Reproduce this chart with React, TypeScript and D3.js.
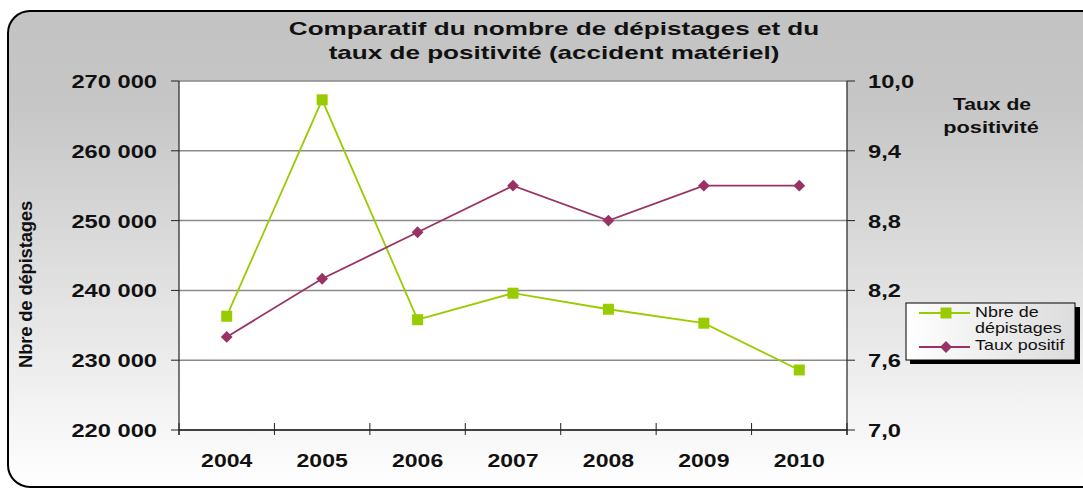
import React from "react";
import * as d3 from "d3";

const years = ["2004", "2005", "2006", "2007", "2008", "2009", "2010"];
const depistages = [236300, 267300, 235800, 239600, 237300, 235300, 228600];
const tauxPositif = [7.8, 8.3, 8.7, 9.1, 8.8, 9.1, 9.1];
const leftTicks = [220000, 230000, 240000, 250000, 260000, 270000];
const rightTicks = [7.0, 7.6, 8.2, 8.8, 9.4, 10.0];

const W = 1083;
const H = 489;
const M = { left: 179, right: 847, top: 81, bottom: 430 };
const FONT = "'Liberation Sans', Arial, sans-serif";

type TProps = {
  x: number;
  y: number;
  sx?: number;
  size: number;
  bold?: boolean;
  anchor?: "start" | "middle" | "end";
  children: React.ReactNode;
};

function T({ x, y, sx = 1.28, size, bold = true, anchor = "start", children }: TProps) {
  return (
    <text
      transform={`translate(${x},${y}) scale(${sx},1)`}
      textAnchor={anchor}
      fontSize={size}
      fontWeight={bold ? "bold" : "normal"}
      fill="#111"
    >
      {children}
    </text>
  );
}

export default function App() {
  const x = d3.scaleBand<string>().domain(years).range([M.left, M.right]);
  const yL = d3.scaleLinear().domain([220000, 270000]).range([M.bottom, M.top]);
  const yR = d3.scaleLinear().domain([7, 10]).range([M.bottom, M.top]);
  const cx = (d: string) => (x(d) ?? 0) + x.bandwidth() / 2;
  const fmtL = (v: number) => d3.format(",")(v).replace(/,/g, " ");
  const fmtR = (v: number) => d3.format(".1f")(v).replace(".", ",");

  const lineL = d3
    .line<number>()
    .x((_, i) => cx(years[i]))
    .y((d) => yL(d));
  const lineR = d3
    .line<number>()
    .x((_, i) => cx(years[i]))
    .y((d) => yR(d));
  const diamond = d3.symbol().type(d3.symbolSquare).size(70)();

  const green = "#99cc00";
  const purple = "#993366";
  const bounds = x.domain().map((d) => x(d) ?? 0).concat([M.right]);

  return (
    <svg
      width={W}
      height={H}
      style={{ position: "absolute", left: 0, top: 0, fontFamily: FONT }}
    >
      <defs>
        <linearGradient id="bg" x1="0" y1="0" x2="0" y2="1">
          <stop offset="0" stopColor="#c3c3c3" />
          <stop offset="0.2" stopColor="#c6c6c6" />
          <stop offset="1" stopColor="#ffffff" />
        </linearGradient>
        <linearGradient id="lg" x1="0" y1="0" x2="1" y2="0">
          <stop offset="0" stopColor="#ffffff" />
          <stop offset="1" stopColor="#dcdcdc" />
        </linearGradient>
      </defs>
      <rect width={W} height={H} fill="#ffffff" />
      <rect
        x={8}
        y={11}
        width={1095}
        height={476}
        rx={22}
        ry={22}
        fill="url(#bg)"
        stroke="#000"
        strokeWidth={2}
      />
      <T x={554} y={35} sx={1.41} size={18.5} anchor="middle">
        Comparatif du nombre de dépistages et du
      </T>
      <T x={554} y={59} sx={1.41} size={18.5} anchor="middle">
        taux de positivité (accident matériel)
      </T>

      <rect
        x={M.left}
        y={M.top}
        width={M.right - M.left}
        height={M.bottom - M.top}
        fill="#ffffff"
      />
      {leftTicks.map((t) => (
        <line
          key={"g" + t}
          x1={M.left}
          x2={M.right}
          y1={yL(t)}
          y2={yL(t)}
          stroke="#8a8a8a"
          strokeWidth={1.5}
        />
      ))}
      {/* axes */}
      <line x1={M.left} x2={M.left} y1={M.top} y2={M.bottom + 5} stroke="#222" strokeWidth={1.2} />
      <line x1={M.right} x2={M.right} y1={M.top} y2={M.bottom + 5} stroke="#222" strokeWidth={1.2} />
      <line x1={M.left} x2={M.right} y1={M.bottom} y2={M.bottom} stroke="#222" strokeWidth={1.5} />
      {bounds.map((b, i) => (
        <line key={"xt" + i} x1={b} x2={b} y1={M.bottom - 7} y2={M.bottom + 5} stroke="#222" strokeWidth={1} />
      ))}
      {leftTicks.map((t) => (
        <g key={"lt" + t}>
          <line x1={M.left - 8} x2={M.left} y1={yL(t)} y2={yL(t)} stroke="#222" strokeWidth={1} />
          <T x={157} y={yL(t) + 7} size={18.5} anchor="end">
            {fmtL(t)}
          </T>
        </g>
      ))}
      {rightTicks.map((t) => (
        <g key={"rt" + t}>
          <line x1={M.right} x2={M.right + 8} y1={yR(t)} y2={yR(t)} stroke="#222" strokeWidth={1} />
          <T x={868} y={yR(t) + 7} size={18.5}>
            {fmtR(t)}
          </T>
        </g>
      ))}
      {years.map((y) => (
        <T key={"xl" + y} x={cx(y)} y={467} size={18} anchor="middle">
          {y}
        </T>
      ))}
      <text
        transform="translate(31.5,284.5) rotate(-90)"
        textAnchor="middle"
        fontSize={18.5}
        fontWeight="bold"
        letterSpacing={-0.2}
        fill="#111"
      >
        Nbre de dépistages
      </text>
      <T x={992} y={110} size={16.5} anchor="middle">
        Taux de
      </T>
      <T x={991} y={133} size={17} anchor="middle">
        positivité
      </T>

      {/* series */}
      <path d={lineL(depistages) ?? ""} fill="none" stroke={green} strokeWidth={1.8} />
      {depistages.map((v, i) => (
        <rect key={"m" + i} x={cx(years[i]) - 5.5} y={yL(v) - 5.5} width={11} height={11} fill={green} />
      ))}
      <path d={lineR(tauxPositif) ?? ""} fill="none" stroke={purple} strokeWidth={1.8} />
      {tauxPositif.map((v, i) => (
        <path
          key={"d" + i}
          d={diamond ?? ""}
          transform={`translate(${cx(years[i])},${yR(v)}) rotate(45)`}
          fill={purple}
        />
      ))}

      {/* legend */}
      <rect x={910} y={307} width={170} height={57} fill="#000" />
      <rect x={906} y={303} width={169} height={57} fill="url(#lg)" stroke="#000" strokeWidth={1} />
      <line x1={919} x2={970} y1={313} y2={313} stroke={green} strokeWidth={1.8} />
      <rect x={940.5} y={307.5} width={11} height={11} fill={green} />
      <line x1={919} x2={970} y1={347} y2={347} stroke={purple} strokeWidth={1.8} />
      <path d={diamond ?? ""} transform="translate(946,347) rotate(45)" fill={purple} />
      <T x={975} y={317} size={14} bold={false}>Nbre de</T>
      <T x={975} y={333} size={14} bold={false}>dépistages</T>
      <T x={975} y={350} size={14} bold={false}>Taux positif</T>
    </svg>
  );
}
